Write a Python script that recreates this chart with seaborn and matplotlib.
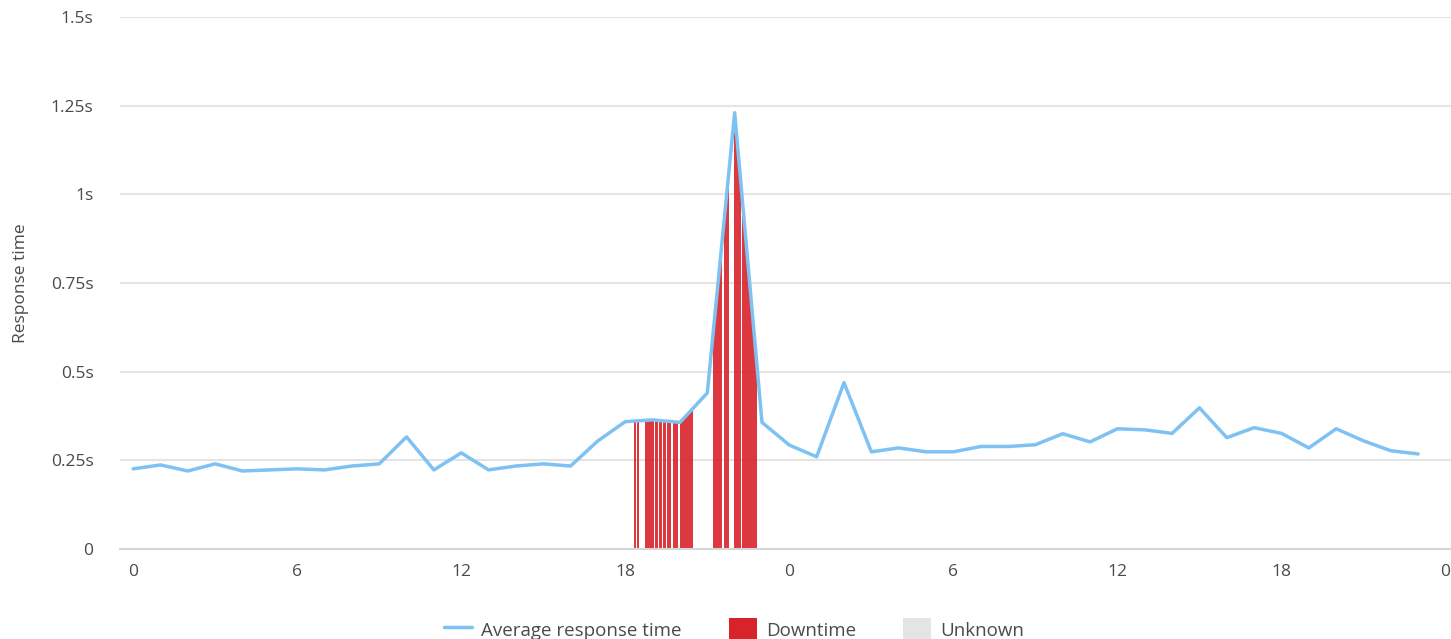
import seaborn as sns
import matplotlib.pyplot as plt
from matplotlib.lines import Line2D
from matplotlib.patches import Patch
import numpy as np

# hourly average response time (seconds), two days
hours = list(range(48))
resp = [0.226, 0.237, 0.220, 0.240, 0.220, 0.223, 0.226, 0.223, 0.234, 0.240,
        0.316, 0.223, 0.271, 0.223, 0.234, 0.240, 0.234, 0.305, 0.359, 0.364,
        0.357, 0.440, 1.230, 0.357, 0.293, 0.260, 0.469, 0.274, 0.285, 0.274,
        0.274, 0.289, 0.289, 0.294, 0.325, 0.302, 0.339, 0.336, 0.326, 0.398,
        0.314, 0.342, 0.326, 0.285, 0.339, 0.305, 0.277, 0.268]

# downtime intervals (start hour, end hour)
down_start = [18.32, 18.44, 18.71, 18.87, 19.08, 19.23, 19.37, 19.52, 19.74, 19.99,
              21.21, 21.60, 21.97, 22.27]
down_end = [18.41, 18.51, 18.85, 19.05, 19.19, 19.34, 19.49, 19.67, 19.92, 20.49,
            21.53, 21.79, 22.22, 22.83]

xticks = [0, 6, 12, 18, 24, 30, 36, 42, 48]
xlabels = ["0", "6", "12", "18", "0", "6", "12", "18", "0"]
yticks = [0, 0.25, 0.5, 0.75, 1.0, 1.25, 1.5]
ylabels = ["0", "0.25s", "0.5s", "0.75s", "1s", "1.25s", "1.5s"]

blue = "#7dc2f2"
red = "#d8232a"
grey = "#e4e4e4"
text_col = "#4a4a4a"

sns.set_style("white")
plt.rcParams['font.family'] = ['Open Sans', 'DejaVu Sans']

fig = plt.figure(figsize=(14.51, 6.39), dpi=100)
ax = fig.add_axes([120 / 1451, 1 - 549 / 639, 1 - 120 / 1451, (549 - 17) / 639])

# area under the line, used only to clip the downtime stripes
area = ax.fill_between(hours, 0, resp, color="none", linewidth=0)
clip = area.get_paths()[0]
for s, e in zip(down_start, down_end):
    span = ax.axvspan(s, e, color=red, alpha=0.9, linewidth=0, zorder=2)
    span.set_clip_path(clip, ax.transData)

sns.lineplot(x=hours, y=resp, ax=ax, color=blue, linewidth=2.5, zorder=3)

ax.set_xlim(-0.48, 48.2)
ax.set_ylim(0, 1.5)
ax.set_xticks(xticks)
ax.set_xticklabels(xlabels)
ax.set_yticks(yticks)
ax.set_yticklabels(ylabels)
ax.yaxis.grid(True, color=grey, linewidth=1.5)
ax.set_axisbelow(True)
for side in ["top", "right", "left"]:
    ax.spines[side].set_visible(False)
ax.spines["bottom"].set_color("#d6d6d6")
ax.spines["bottom"].set_linewidth(1.5)
ax.tick_params(axis="x", length=7, width=1, color="#d6d6d6", labelsize=12.5,
               labelcolor=text_col, pad=4)
ax.tick_params(axis="y", length=0, labelsize=12.5, labelcolor=text_col, pad=19)
ax.set_ylabel("Response time", fontsize=12.5, color=text_col, labelpad=16)
ax.set_xlabel("")

handles = [Line2D([0], [0], color=blue, linewidth=2.5),
           Patch(facecolor=red, edgecolor="none"),
           Patch(facecolor=grey, edgecolor="none")]
fig.legend(handles, ["Average response time", "Downtime", "Unknown"],
           loc="lower center", bbox_to_anchor=(0.506, -0.03), ncol=3,
           frameon=False, fontsize=13.5, handlelength=1.5, handleheight=1.5,
           handletextpad=0.5, columnspacing=2.5, labelcolor=text_col)

fig.savefig("out.png", dpi=100)
